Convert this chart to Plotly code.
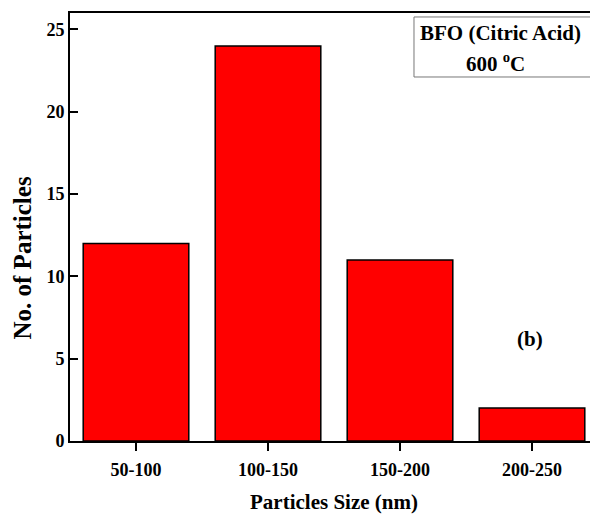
import plotly.graph_objects as go

categories = ["50-100", "100-150", "150-200", "200-250"]
counts = [12, 24, 11, 2]
y_ticks = [0, 5, 10, 15, 20, 25]

FONT = "Liberation Serif, Times New Roman, serif"

# page body has an 8px default margin; compensate so the figure fills the window
fig = go.Figure()
fig.add_trace(go.Bar(
    x=categories, y=counts,
    width=0.8,
    marker=dict(color="#ff0000", line=dict(color="black", width=1.5)),
))

fig.update_layout(
    width=590, height=506,
    margin=dict(l=62, r=0, t=5, b=73, autoexpand=False),
    paper_bgcolor="white", plot_bgcolor="white",
    showlegend=False,
    font=dict(family=FONT, color="black"),
    bargap=0.2,
)

fig.update_xaxes(
    type="category",
    range=[-0.5, 3.5],
    showline=True, linecolor="black", linewidth=2, mirror=True,
    ticks="outside", ticklen=8, tickwidth=2, tickcolor="black",
    tickfont=dict(family=FONT, size=18, weight="bold"),
    ticklabelstandoff=3,
    showgrid=False,
    title=dict(text="Particles Size (nm)", font=dict(family=FONT, size=21, weight="bold"), standoff=18),
)
fig.update_yaxes(
    range=[0, 26],
    tickvals=y_ticks,
    showline=True, linecolor="black", linewidth=2, mirror=False,
    ticks="inside", ticklen=8, tickwidth=2, tickcolor="black",
    tickfont=dict(family=FONT, size=18, weight="bold"),
    showgrid=False, zeroline=False,
)

# y-axis title (offset below plot center as in reference)
fig.add_annotation(
    text="No. of Particles", textangle=-90,
    xref="paper", yref="paper", x=-0.0909, y=0.4264,
    xanchor="center", yanchor="middle", showarrow=False,
    font=dict(family=FONT, size=25, weight="bold", color="black"),
)

# legend-like box
fig.add_shape(type="rect", xref="paper", yref="paper",
              x0=0.6515, x1=0.9886, y0=0.8505, y1=0.9907,
              line=dict(color="#777777", width=1), fillcolor="rgba(0,0,0,0)")
fig.add_annotation(text="BFO (Citric Acid)", xref="paper", yref="paper",
                   x=0.8144, y=0.9533, xanchor="center", yanchor="middle", showarrow=False,
                   font=dict(family=FONT, size=21, weight="bold", color="black"))
fig.add_annotation(text="600 <sup>o</sup>C", xref="paper", yref="paper",
                   x=0.8068, y=0.8832, xanchor="center", yanchor="middle", showarrow=False,
                   font=dict(family=FONT, size=21, weight="bold", color="black"))
fig.add_annotation(text="(b)", xref="paper", yref="paper",
                   x=(530 - 70) / 528, y=(441 - 339) / 428,
                   xanchor="center", yanchor="middle", showarrow=False,
                   font=dict(family=FONT, size=21, weight="bold", color="black"))

fig.write_html("out.html")
